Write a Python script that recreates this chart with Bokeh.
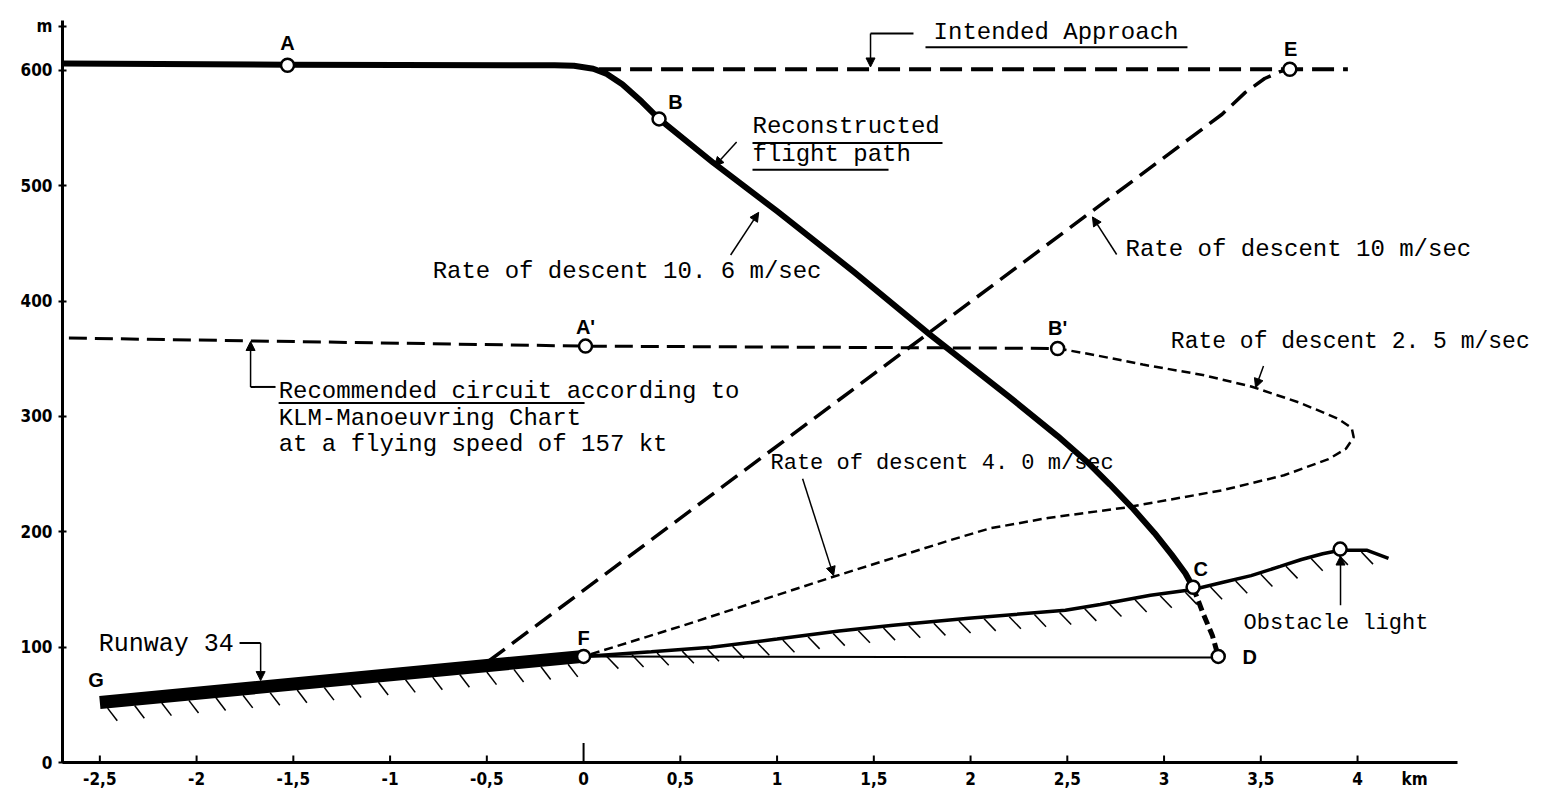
import numpy as np
from bokeh.plotting import figure
from bokeh.models import Label, Arrow, NormalHead, FixedTicker, Range1d
from bokeh.embed import file_html
from bokeh.resources import INLINE

# ---------------- data (km, m) ----------------
x_ticks = [-2.5, -2, -1.5, -1, -0.5, 0, 0.5, 1, 1.5, 2, 2.5, 3, 3.5, 4]
x_tick_labels = ["-2,5", "-2", "-1,5", "-1", "-0,5", "0", "0,5", "1", "1,5", "2", "2,5", "3", "3,5", "4"]
y_ticks = [0, 100, 200, 300, 400, 500, 600]
x_unit, x_unit_at = "km", 4.295
y_unit, y_unit_at = "m", 638.2

flight_x = [-2.69, -1.53, -0.15, -0.05, 0.05, 0.12, 0.20, 0.30, 0.39, 0.67, 1.00, 1.40, 1.79, 2.20,
            2.45, 2.60, 2.72, 2.84, 2.95, 3.04, 3.11, 3.15]
flight_y = [606, 605, 604.5, 604, 601.5, 597, 588, 573, 558, 520, 478, 425, 371, 317,
            283, 261, 241, 220, 199, 180, 164, 152]

crash_x = [3.15, 3.20, 3.25, 3.28]
crash_y = [152, 130, 110, 92]

intended_x = [0.08, 3.95]
intended_y = [601, 601]

rate10_x = [-0.49, 3.30, 3.42, 3.52, 3.60, 3.65]
rate10_y = [88, 562, 581, 593, 599, 601]

circuit_x = [-2.66, 0.01, 2.45]
circuit_y = [368, 361, 359]

descent25_x = [2.45, 2.65, 2.89, 3.20, 3.45, 3.70, 3.90, 3.97, 3.98, 3.94, 3.85, 3.62, 3.30, 2.80,
               2.40, 2.10, 1.90, 1.29, 0.52, 0.0]
descent25_y = [359, 353, 345, 336, 326, 312, 298, 290, 282, 272, 263, 249, 236, 221,
               212, 203, 193, 161, 119, 92]

runway_x = [-2.50, 0.0]
runway_y = [52, 92]

terrain_x = [0.0, 0.35, 0.66, 1.00, 1.32, 1.60, 1.99, 2.49, 2.67, 2.93, 3.15, 3.30, 3.45, 3.60,
             3.71, 3.82, 3.91, 4.05, 4.16]
terrain_y = [92, 96, 100, 107, 114, 119, 125, 132, 137, 145, 150, 156, 162, 170,
             176, 181, 184, 184, 177]

baseline_x = [0.0, 3.28]
baseline_y = [92, 91]

pt_names = ["A", "B", "E", "A'", "B'", "C", "D", "F", "G"]
pt_x = [-1.53, 0.39, 3.65, 0.01, 2.45, 3.15, 3.28, 0.0]
pt_y = [604.5, 558, 601, 361, 359, 152, 92, 92]
obstacle_x = [3.91]
obstacle_y = [185]

# ---------------- figure ----------------
X_AXIS_END = 4.517
p = figure(width=1537, height=791,
           x_range=Range1d(-2.693, 4.930), y_range=Range1d(0, 643.3),
           output_backend="svg", toolbar_location=None,
           min_border_left=62, min_border_right=0, min_border_top=20, min_border_bottom=26)
p.xgrid.visible = False
p.ygrid.visible = False
p.outline_line_color = None
p.background_fill_color = "white"

TICKFONT = "DejaVu Sans Condensed"
ax = p.xaxis[0]
ax.bounds = (-2.693, X_AXIS_END)
ax.ticker = FixedTicker(ticks=x_ticks + [x_unit_at])
overrides = {t: l for t, l in zip(x_ticks, x_tick_labels)}
overrides[x_unit_at] = x_unit
ax.major_label_overrides = overrides
ax.axis_line_width = 3
ax.major_tick_line_color = None
ax.major_tick_in = 0
ax.major_tick_out = 0
ax.minor_tick_line_color = None
ax.major_label_standoff = 6
ax.major_label_text_font = TICKFONT
ax.major_label_text_font_style = "bold"
ax.major_label_text_font_size = "17px"
ax.major_label_text_color = "black"

ay = p.yaxis[0]
ay.ticker = FixedTicker(ticks=y_ticks + [y_unit_at])
ay.major_label_overrides = {y_unit_at: y_unit}
ay.axis_line_width = 3
ay.major_tick_line_width = 2
ay.major_tick_in = 4
ay.major_tick_out = 4
ay.minor_tick_line_color = None
ay.major_label_standoff = 6
ay.major_label_text_font = TICKFONT
ay.major_label_text_font_style = "bold"
ay.major_label_text_font_size = "17px"
ay.major_label_text_color = "black"

K = "black"
# x tick marks pointing up into the plot (taller one at 0 km)
tick_len = [17 if t == 0 else 6 for t in x_ticks]
p.segment(x_ticks, [0] * len(x_ticks), x_ticks, tick_len, line_width=2, line_color=K)

# hatching below terrain and runway
th = np.arange(0.12, 4.12, 0.13)
ty = np.interp(th, terrain_x, terrain_y)
p.segment(th, ty - 1.5, th + 0.06, ty - 12, line_width=1.5, line_color=K)
rh = np.arange(-2.46, 0.02, 0.14)
ry = np.interp(rh, runway_x, runway_y) - 5.5
p.segment(rh, ry, rh + 0.05, ry - 11, line_width=1.5, line_color=K)

p.line(baseline_x, baseline_y, line_width=2, line_color=K)
p.line(terrain_x, terrain_y, line_width=3.5, line_color=K)
p.line(intended_x, intended_y, line_width=4, line_color=K, line_dash="22 9")
p.line(rate10_x, rate10_y, line_width=3.5, line_color=K, line_dash="20 9")
p.line(circuit_x, circuit_y, line_width=3, line_color=K, line_dash="18 8")
p.line(descent25_x, descent25_y, line_width=2.5, line_color=K, line_dash="9 5")
p.line(runway_x, runway_y, line_width=13, line_color=K)
p.line(flight_x, flight_y, line_width=6, line_color=K, line_join="round")
p.line(crash_x, crash_y, line_width=5, line_color=K, line_dash="10 5")

p.scatter(pt_x, pt_y, size=13, fill_color="white", line_color=K, line_width=2.5)
p.scatter(obstacle_x, obstacle_y, size=13, fill_color="white", line_color=K, line_width=2.5)

# ---------------- annotations ----------------
SERIF = "Liberation Mono"
SANS = "Liberation Sans"

def txt(x, y, s, size="24px", font=SERIF, style="normal", align="left"):
    p.add_layout(Label(x=x, y=y, text=s, text_font=font, text_font_size=size,
                       text_font_style=style, text_align=align, text_baseline="middle",
                       text_color=K))

def arrow(x0, y0, x1, y1):
    p.add_layout(Arrow(end=NormalHead(size=9, fill_color=K, line_color=K, line_width=1),
                       x_start=x0, y_start=y0, x_end=x1, y_end=y1,
                       line_width=1.5, line_color=K))

# point letters
letter_pos = [(-1.53, 623.5), (0.475, 572.5), (3.654, 619), (0.01, 378), (2.45, 377),
              (3.19, 168), (3.406, 91.5), (0.0, 108), (-2.52, 71.7)]
for name, (lx, ly) in zip(pt_names, letter_pos):
    txt(lx, ly, name, size="20px", font=SANS, style="bold",
        align="left" if name == "D" else "center")

# Intended approach
txt(1.809, 633, "Intended Approach")
p.line([1.767, 3.121], [620, 620], line_width=2, line_color=K)
p.line([1.705, 1.483], [632, 632], line_width=2, line_color=K)
arrow(1.483, 632, 1.483, 603)

# Reconstructed flight path
txt(0.873, 551, "Reconstructed")
txt(0.873, 527, "flight path")
p.line([0.873, 1.855], [537, 537], line_width=2, line_color=K)
p.line([0.873, 1.576], [514, 514], line_width=2, line_color=K)
arrow(0.791, 538, 0.677, 517)

# Rate of descent 10.6
txt(-0.780, 425.7, "Rate of descent 10. 6 m/sec")
arrow(0.760, 440, 0.905, 477)

# Rate of descent 10
txt(2.801, 444.7, "Rate of descent 10 m/sec")
arrow(2.755, 440.4, 2.630, 473)

# Rate of descent 2.5
txt(3.035, 364.4, "Rate of descent 2. 5 m/sec", size="23px")
arrow(3.514, 343.7, 3.473, 325)

# Rate of descent 4.0
txt(0.966, 259, "Rate of descent 4. 0 m/sec", size="22px")
arrow(1.132, 246, 1.292, 162)

# Recommended circuit
txt(-1.576, 322, "Recommended circuit according to")
txt(-1.576, 298, "KLM-Manoeuvring Chart")
txt(-1.576, 276, "at a flying speed of 157 kt")
p.line([-1.576, 0.005], [311.7, 311.7], line_width=2, line_color=K)
p.line([-1.592, -1.721], [325.6, 325.6], line_width=2, line_color=K)
arrow(-1.721, 325.6, -1.721, 365)

# Runway 34
txt(-2.506, 101.9, "Runway 34", size="25px")
p.line([-1.778, -1.669], [103.6, 103.6], line_width=2, line_color=K)
arrow(-1.669, 103.6, -1.669, 71)

# Obstacle light
txt(3.411, 120.9, "Obstacle light", size="22px")
arrow(3.912, 136.4, 3.912, 179)

open("out.html", "w").write(file_html(p, INLINE))
